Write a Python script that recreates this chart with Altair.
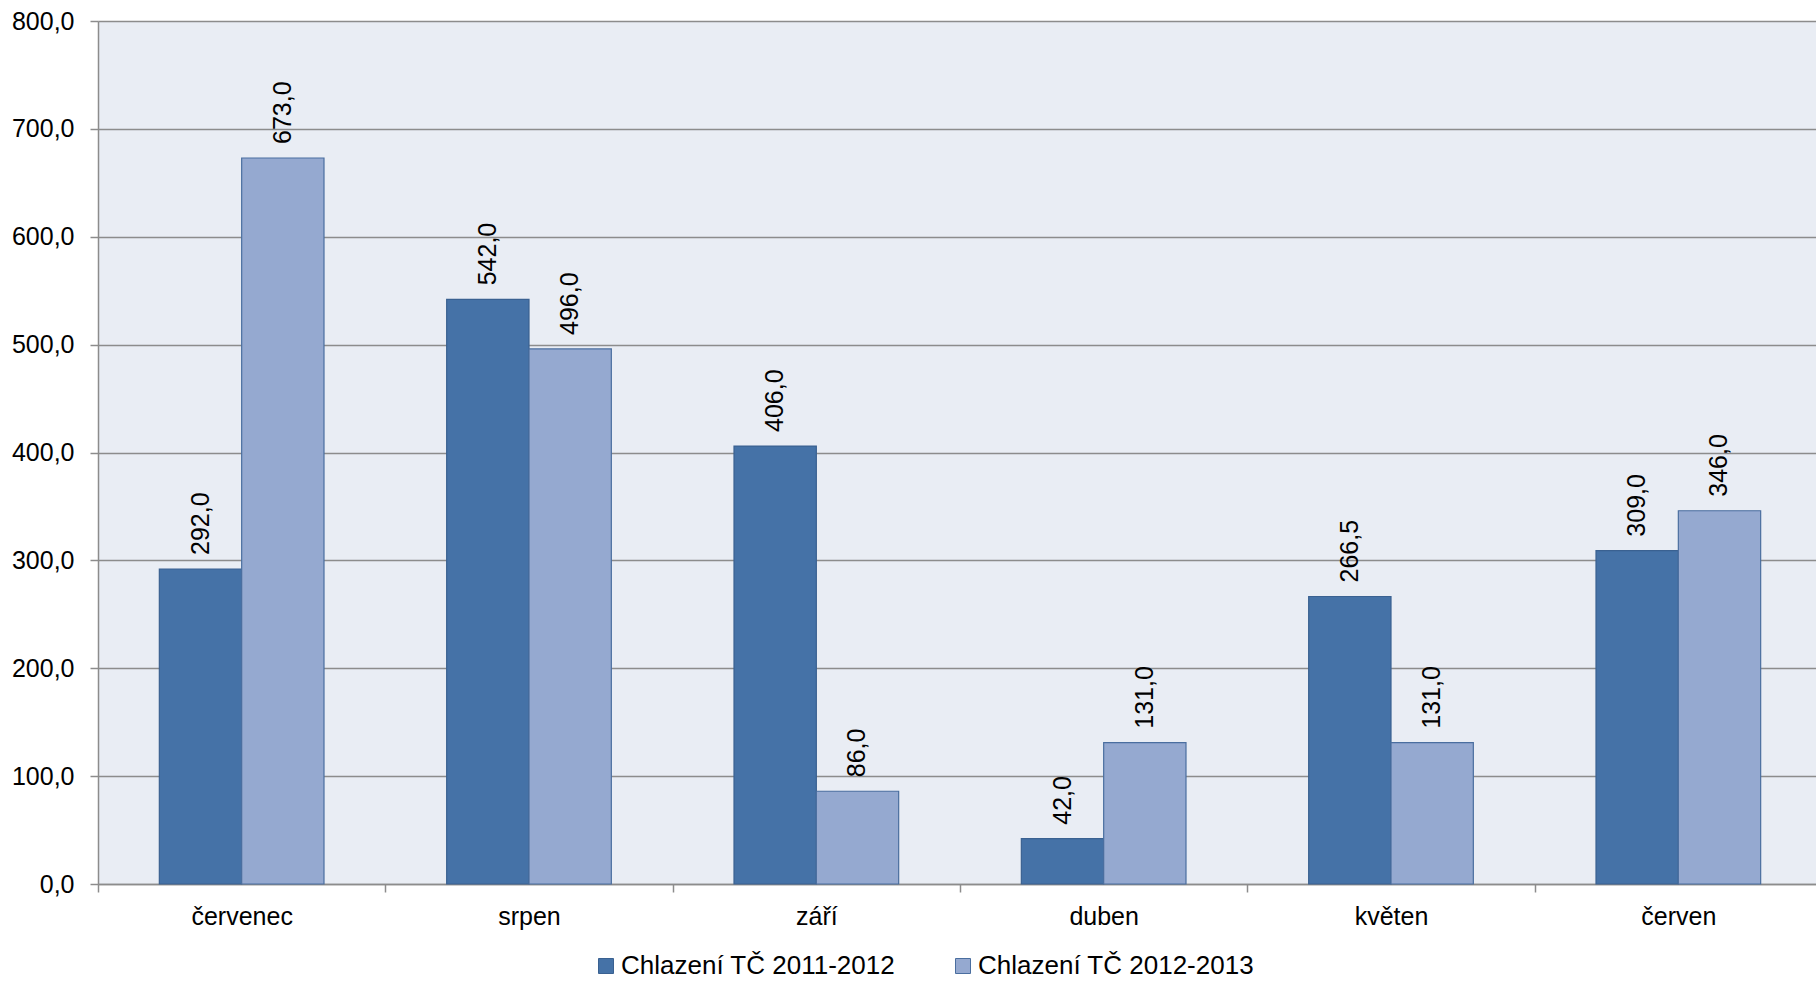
import altair as alt
import pandas as pd

# Monthly cooling energy of the heat pump, two seasons side by side
months = ["červenec", "srpen", "září", "duben", "květen", "červen"]
series = ["Chlazení TČ 2011-2012", "Chlazení TČ 2012-2013"]
season_2011_2012 = [292.0, 542.0, 406.0, 42.0, 266.5, 309.0]
season_2012_2013 = [673.0, 496.0, 86.0, 131.0, 131.0, 346.0]
y_ticks = [0, 100, 200, 300, 400, 500, 600, 700, 800]

fill_colors = ["#4572a7", "#95a9d0"]
edge_colors = ["#3a6191", "#4a6e9f"]

rows = []
for m, a, b in zip(months, season_2011_2012, season_2012_2013):
    rows.append({"mesic": m, "rada": series[0], "hodnota": a})
    rows.append({"mesic": m, "rada": series[1], "hodnota": b})
df = pd.DataFrame(rows)

FONT = "Liberation Sans"
FS = 25

# Category bands fill the whole width; the bar pair sits in the middle of each band
x_enc = alt.X(
    "mesic:N",
    sort=months,
    title=None,
    scale=alt.Scale(range=[0, 1724], paddingInner=0, paddingOuter=0),
    axis=alt.Axis(
        tickBand="extent",
        labelAngle=0,
        labelFontSize=FS,
        labelFont=FONT,
        labelColor="#000000",
        labelPadding=12,
        tickSize=8,
        tickColor="#8c8c8c",
        tickWidth=1.5,
        domainColor="#8c8c8c",
        domainWidth=1.5,
        grid=False,
    ),
)
y_enc = alt.Y(
    "hodnota:Q",
    title=None,
    scale=alt.Scale(domain=[0, 800], nice=False),
    axis=alt.Axis(
        values=y_ticks,
        labelExpr="replace(format(datum.value, '.1f'), '.', ',')",
        labelFontSize=FS,
        labelFont=FONT,
        labelColor="#000000",
        labelPadding=16,
        tickSize=8,
        tickColor="#8c8c8c",
        tickWidth=1.5,
        domainColor="#8c8c8c",
        domainWidth=1.5,
        gridColor="#8c8c8c",
        gridWidth=1.5,
    ),
)
x_off = alt.XOffset(
    "rada:N", sort=series, scale=alt.Scale(paddingInner=0, paddingOuter=0.745)
)

bars = alt.Chart(df).mark_bar(strokeWidth=1.2).encode(
    x=x_enc,
    y=y_enc,
    xOffset=x_off,
    color=alt.Color(
        "rada:N",
        sort=series,
        scale=alt.Scale(domain=series, range=fill_colors),
        legend=alt.Legend(
            orient="none",
            legendX=495,
            legendY=932,
            direction="horizontal",
            title=None,
            symbolType="square",
            symbolSize=225,
            symbolStrokeColor="#3a6191",
            symbolStrokeWidth=1,
            labelFontSize=26,
            labelFont=FONT,
            labelColor="#000000",
            labelLimit=0,
            labelOffset=2,
            columnPadding=54,
        ),
    ),
    stroke=alt.Stroke(
        "rada:N",
        sort=series,
        scale=alt.Scale(domain=series, range=edge_colors),
        legend=None,
    ),
)

labels = alt.Chart(df).transform_calculate(
    popisek="replace(format(datum.hodnota, '.1f'), '.', ',')"
).mark_text(
    angle=270,
    align="left",
    baseline="middle",
    dx=14,
    fontSize=FS,
    font=FONT,
    color="#000000",
).encode(
    x=alt.X("mesic:N", sort=months),
    y=alt.Y("hodnota:Q"),
    xOffset=x_off,
    text="popisek:N",
)

chart = (
    alt.layer(bars, labels)
    .properties(
        width=1718,
        height=863,
        autosize=alt.AutoSizeParams(type="none"),
        padding={"left": 98, "top": 21, "right": 0, "bottom": 97},
        background="#ffffff",
    )
    .configure_view(fill="#e9edf4", stroke=None)
)

chart.save("out.html", embed_options={"renderer": "svg", "actions": False})
